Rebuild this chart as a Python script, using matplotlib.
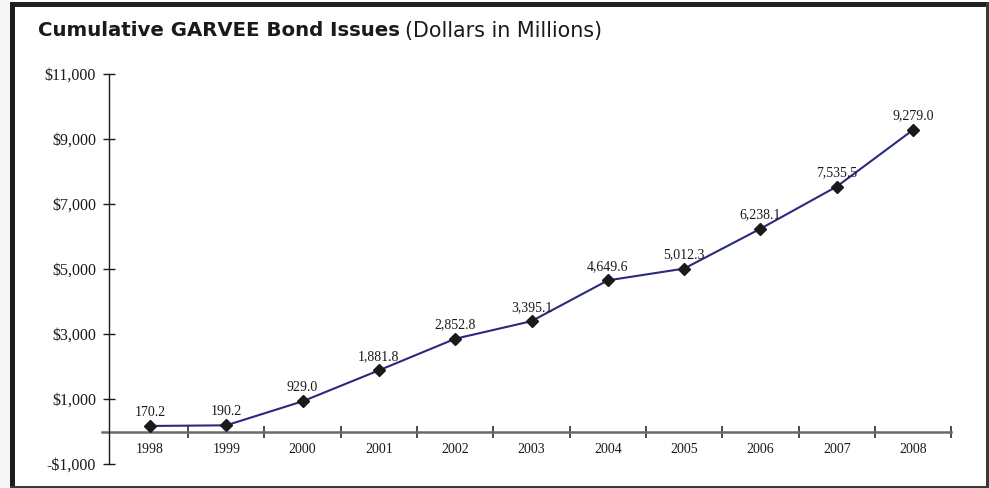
import matplotlib
matplotlib.use("Agg")
import matplotlib.pyplot as plt
from matplotlib.patches import Rectangle
from matplotlib.ticker import FixedLocator

years = ["1998", "1999", "2000", "2001", "2002", "2003", "2004", "2005", "2006", "2007", "2008"]
values = [170.2, 190.2, 929.0, 1881.8, 2852.8, 3395.1, 4649.6, 5012.3, 6238.1, 7535.5, 9279.0]
ytick_vals = [-1000, 1000, 3000, 5000, 7000, 9000, 11000]
ytick_labels = ["-$1,000", "$1,000", "$3,000", "$5,000", "$7,000", "$9,000", "$11,000"]
title_bold = "Cumulative GARVEE Bond Issues"
title_normal = "(Dollars in Millions)"

W, H = 989, 488
fig = plt.figure(figsize=(W / 100, H / 100), dpi=100)
fig.patch.set_facecolor("white")

def px_rect(x0, y0, x1, y1, color):
    # pixel coords from top-left
    fig.patches.append(Rectangle((x0 / W, 1 - y1 / H), (x1 - x0) / W, (y1 - y0) / H,
                                 transform=fig.transFigure, color=color, zorder=0, lw=0))

px_rect(0, 0, 10, H, "#f6f6f6")
px_rect(10, 1.5, W, 6.8, "#222222")
px_rect(10, 1.5, 15, H, "#1c1c1c")
px_rect(986, 1.5, W, H, "#3a3a3a")
px_rect(10, 486.2, W, H, "#3a3a3a")

# axes placement (pixels)
x0px, unit = 150.0, 76.3
xl, xr = -0.7, 10.6
ax_left = (x0px + xl * unit) / W
ax_w = (xr - xl) * unit / W
ax_bottom = (H - 464) / H
ax_h = (464 - 74) / H
ax = fig.add_axes([ax_left, ax_bottom, ax_w, ax_h])
ax.set_facecolor("none")
ax.set_xlim(xl, xr)
ax.set_ylim(-1000, 11000)

xs = list(range(len(years)))
ax.plot(xs, values, color="#2a2a7e", lw=1.5, zorder=3, clip_on=False)
ax.plot(xs, values, ls="none", marker="D", ms=6.5, color="#1a1a1a", zorder=4, clip_on=False)

serif = ["Liberation Serif", "DejaVu Serif"]
for x, v in zip(xs, values):
    ax.annotate(f"{v:,.1f}", (x, v), xytext=(0, 10), textcoords="offset points",
                ha="center", va="center", fontsize=10, family=serif, color="#1a1a1a")

for s in ["top", "right"]:
    ax.spines[s].set_visible(False)
ax.spines["left"].set_position(("data", -0.54))
ax.spines["left"].set_bounds(-1000, 11000)
ax.spines["left"].set_linewidth(1.0)
ax.spines["left"].set_color("#1a1a1a")
ax.spines["bottom"].set_position(("data", 0))
ax.spines["bottom"].set_bounds(-0.63, 10.5)
ax.spines["bottom"].set_linewidth(1.8)
ax.spines["bottom"].set_color("#6a6a6a")
ax.spines["bottom"].set_zorder(2)

ax.set_yticks(ytick_vals)
ax.set_yticklabels(ytick_labels, family=serif, fontsize=11.5, color="#1a1a1a")
ax.tick_params(axis="y", direction="inout", length=8.6, width=1.0, pad=5, color="#1a1a1a")

ax.set_xticks(xs)
ax.set_xticklabels(years, family=serif, fontsize=10, color="#1a1a1a")
ax.tick_params(axis="x", which="major", length=0, pad=8)
ax.xaxis.set_minor_locator(FixedLocator([i + 0.5 for i in range(len(years))]))
ax.tick_params(axis="x", which="minor", direction="inout", length=8.6, width=1.1, color="#1a1a1a")

# title
renderer = fig.canvas.get_renderer()
t1 = fig.text(38 / W, 1 - 36.5 / H, title_bold, fontsize=14, fontweight="bold",
              family="DejaVu Sans", color="#1a1a1a", ha="left", va="baseline")
bb = t1.get_window_extent(renderer)
t1.set_fontsize(14 * 364 / bb.width)
bb = t1.get_window_extent(renderer)
t2 = fig.text((bb.x1 + 5) / W, 1 - 36.5 / H, title_normal, fontsize=12,
              family="DejaVu Sans", color="#1a1a1a", ha="left", va="baseline")
bb2 = t2.get_window_extent(renderer)
t2.set_fontsize(12 * (601 - bb.x1 - 5) / bb2.width)

fig.savefig("out.png", dpi=100)
